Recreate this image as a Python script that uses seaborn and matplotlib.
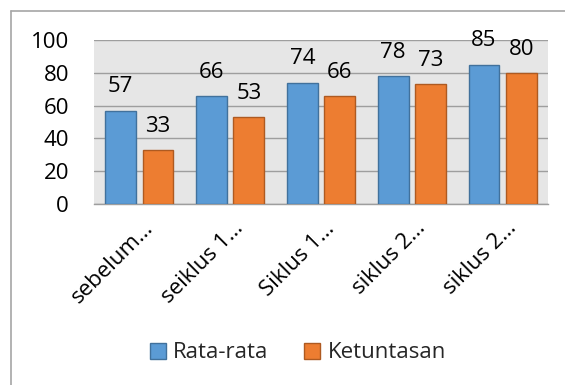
import matplotlib
matplotlib.use("Agg")
import matplotlib.pyplot as plt
import seaborn as sns
import pandas as pd
from matplotlib.lines import Line2D
from matplotlib.patches import Patch
import matplotlib.transforms as mtransforms

categories = ["sebelum…", "seiklus 1…", "Siklus 1…", "siklus 2…", "siklus 2…"]
cat_keys = ["c0", "c1", "c2", "c3", "c4"]
rata_rata = [57, 66, 74, 78, 85]
ketuntasan = [33, 53, 66, 73, 80]
series_names = ["Rata-rata", "Ketuntasan"]
yticks = [0, 20, 40, 60, 80, 100]

df = pd.DataFrame({
    "cat": cat_keys * 2,
    "value": rata_rata + ketuntasan,
    "series": [series_names[0]] * 5 + [series_names[1]] * 5,
})

sns.set_theme(style="white")
plt.rcParams["font.family"] = ["Open Sans", "DejaVu Sans"]
FS = 16

fig = plt.figure(figsize=(5.65, 3.85), dpi=100)
ax = fig.add_axes([94 / 565, 1 - 204 / 385, (548 - 94) / 565, (204 - 40) / 385])

palette = {"Rata-rata": "#5B9BD5", "Ketuntasan": "#ED7D31"}
edges = {"Rata-rata": "#41719C", "Ketuntasan": "#AE5A21"}
sns.barplot(data=df, x="cat", y="value", hue="series", palette=palette,
            width=0.82, gap=0.17, saturation=1, ax=ax, legend=False, zorder=3)

for cont, name in zip(ax.containers, series_names):
    for bar in cont:
        bar.set_edgecolor(edges[name])
        bar.set_linewidth(1.0)
    ax.bar_label(cont, padding=9.5, fontsize=FS, color="#000000")

ax.set_facecolor("#E6E6E6")
ax.set_ylim(0, 100)
ax.set_xlim(-0.5, 4.5)
ax.set_yticks(yticks)
ax.set_yticklabels([str(v) for v in yticks], fontsize=FS, color="#000000")
ax.yaxis.grid(True, color="#9E9E9E", linewidth=1.0, zorder=0)
ax.set_axisbelow(True)
ax.tick_params(axis="y", length=0, pad=18)
ax.tick_params(axis="x", length=0, pad=10)
ax.set_xticks(range(5))
ax.set_xticklabels(categories, rotation=45, ha="right", rotation_mode="anchor",
                   fontsize=FS, color="#000000")
offset = mtransforms.ScaledTranslation(3 / 100, 0, fig.dpi_scale_trans)
for lbl in ax.get_xticklabels():
    lbl.set_transform(lbl.get_transform() + offset)
ax.set_xlabel("")
ax.set_ylabel("")
for s in ["top", "right", "left"]:
    ax.spines[s].set_visible(False)
ax.spines["bottom"].set_color("#9E9E9E")
ax.spines["bottom"].set_linewidth(1.0)

handles = [Patch(facecolor=palette[n], edgecolor=edges[n], label=n) for n in series_names]
fig.legend(handles=handles, loc="center", bbox_to_anchor=(298 / 565, 1 - 353 / 385),
           ncol=2, frameon=False, fontsize=FS, handlelength=0.7, handleheight=0.7,
           handletextpad=0.35, columnspacing=1.6)

# outer border (left and top)
fig.add_artist(Line2D([11 / 565, 11 / 565], [0, 1 - 11 / 385], color="#A6A6A6", lw=1.2,
                      transform=fig.transFigure))
fig.add_artist(Line2D([11 / 565, 1], [1 - 11 / 385, 1 - 11 / 385], color="#A6A6A6", lw=1.2,
                      transform=fig.transFigure))

fig.savefig("out.png", dpi=100, facecolor="white")
